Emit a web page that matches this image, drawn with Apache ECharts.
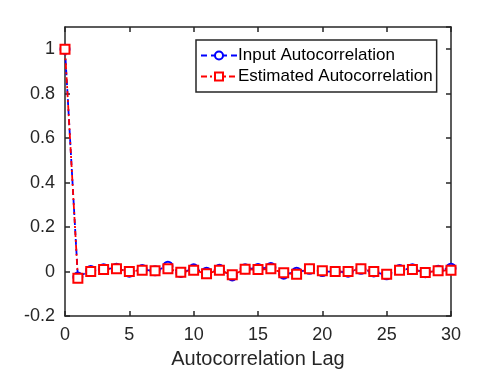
<!DOCTYPE html>
<html>
<head>
<meta charset="utf-8">
<script src="https://cdn.jsdelivr.net/npm/echarts@6/dist/echarts.min.js"></script>
<style>
  html, body { margin: 0; padding: 0; background: #fff; }
  #chart { width: 498px; height: 374px; }
</style>
</head>
<body>
<div id="chart"></div>
<script>
    // lags 0..30
    var lags = [];
    for (var i = 0; i <= 30; i++) lags.push(i);

    var inputAcf = [1, -0.025, 0.005, 0.012, 0.015, -0.003, 0.009, 0.003, 0.024, -0.004,
        0.012, -0.003, 0.01, -0.02, 0.012, 0.014, 0.018, -0.012, -0.003, 0.01,
        0.0, 0.0, -0.003, 0.01, -0.002, -0.015, 0.009, 0.012, -0.005, 0.006, 0.015];
    var estAcf = [1, -0.03, 0.0, 0.009, 0.012, 0.0, 0.006, 0.003, 0.012, -0.003,
        0.006, -0.01, 0.006, -0.015, 0.01, 0.009, 0.012, -0.006, -0.012, 0.012,
        0.003, 0.0, 0.0, 0.012, 0.0, -0.012, 0.006, 0.009, -0.004, 0.003, 0.006];

    var xTicks = { min: 0, max: 30, interval: 5 };
    var yTicks = { min: -0.2, max: 1.1, interval: 0.2 };

    var font = "'Liberation Sans', Arial, sans-serif";
    var axisColor = "#262626";

    function pairs(ys) {
        return lags.map(function (x, k) { return [x, ys[k]]; });
    }

    function axis(pos, range, labels) {
        return {
            type: "value",
            position: pos,
            min: range.min,
            max: range.max,
            interval: range.interval,
            axisLine: { show: true, onZero: false, lineStyle: { color: axisColor, width: 1.5 } },
            axisTick: { show: true, inside: true, length: 5, lineStyle: { color: axisColor, width: 1.5 } },
            axisLabel: {
                show: labels, color: axisColor, fontFamily: font, fontSize: 18, margin: 10,
                showMaxLabel: range.max === 30
            },
            splitLine: { show: false }
        };
    }

    var chart = echarts.init(document.getElementById("chart"));
    var xBottom = axis("bottom", xTicks, true);
    xBottom.name = "Autocorrelation Lag";
    xBottom.nameLocation = "middle";
    xBottom.nameGap = 33;
    xBottom.nameTextStyle = { color: axisColor, fontFamily: font, fontSize: 20 };

    var option = {
        animation: false,
        grid: { left: 65, right: 47, top: 27, bottom: 58, containLabel: false },
        xAxis: [xBottom, axis("top", xTicks, false)],
        yAxis: [axis("left", yTicks, true), axis("right", yTicks, false)],
        legend: {
            orient: "vertical",
            left: 196,
            top: 40,
            padding: [6, 4, 6, 4],
            itemGap: 2,
            itemWidth: 36,
            itemHeight: 10,
            backgroundColor: "#fff",
            borderColor: axisColor,
            borderWidth: 1.5,
            textStyle: { color: "#000", fontFamily: font, fontSize: 17, lineHeight: 19, padding: [0, 0, 0, -4] },
            data: ["Input Autocorrelation", "Estimated Autocorrelation"]
        },
        series: [
            {
                name: "Input Autocorrelation",
                type: "line",
                data: pairs(inputAcf),
                symbol: "emptyCircle",
                symbolSize: 9,
                itemStyle: { color: "#0000ff", borderWidth: 2 },
                lineStyle: { color: "#0000ff", width: 1.8, type: [6, 4] }
            },
            {
                name: "Estimated Autocorrelation",
                type: "line",
                data: pairs(estAcf),
                symbol: "emptyRect",
                symbolSize: 9,
                itemStyle: { color: "#ff0000", borderWidth: 2 },
                lineStyle: { color: "#ff0000", width: 1.8, type: [6, 3, 2, 3] }
            }
        ]
    };
    chart.setOption(option);
</script>
</body>
</html>
